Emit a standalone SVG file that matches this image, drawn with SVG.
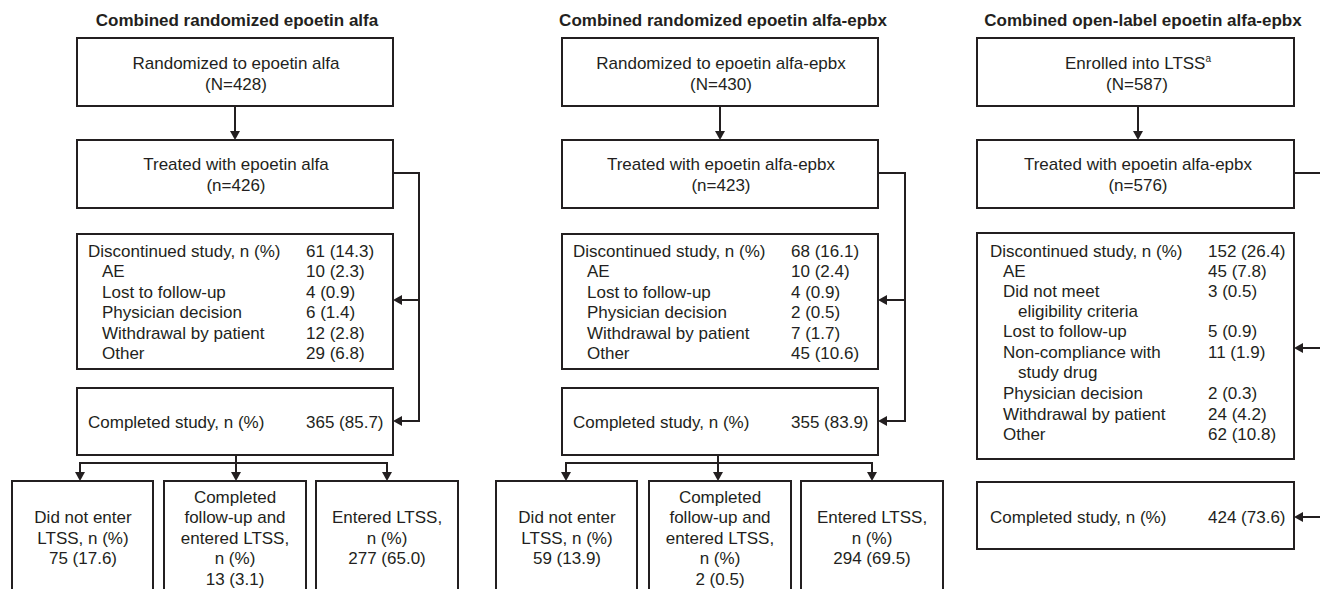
<svg xmlns="http://www.w3.org/2000/svg" width="1320" height="589" viewBox="0 0 1320 589">
<style>
text{font-family:"Liberation Sans",Arial,sans-serif;font-size:17px;fill:#231f20}
.t{font-weight:bold}
.c{text-anchor:middle}
.b{fill:#fff;stroke:#231f20;stroke-width:2}
.k{fill:none;stroke:#231f20;stroke-width:2}
</style>
<defs>
<marker id="ah" markerUnits="userSpaceOnUse" markerWidth="10" markerHeight="10" viewBox="0 0 9 10" refX="7" refY="5" orient="auto">
<path d="M0,0 L9,5 L0,10 z" fill="#231f20"/>
</marker>
</defs>
<rect width="1320" height="589" fill="#fff"/>

<g id="titles">
<text class="t c" x="237" y="26">Combined randomized epoetin alfa</text>
<text class="t c" x="723" y="26">Combined randomized epoetin alfa-epbx</text>
<text class="t c" x="1143" y="26">Combined open-label epoetin alfa-epbx</text>
</g>

<g id="connectors">
<!-- left -->
<line class="k" x1="235" y1="106" x2="235" y2="138" marker-end="url(#ah)"/>
<path class="k" d="M393,173 H419 V421 H395" marker-end="url(#ah)"/>
<line class="k" x1="419" y1="300" x2="395" y2="300" marker-end="url(#ah)"/>
<path class="k" d="M236,455 V463 M80,463 H387"/>
<line class="k" x1="80" y1="462" x2="80" y2="479" marker-end="url(#ah)"/>
<line class="k" x1="236" y1="462" x2="236" y2="479" marker-end="url(#ah)"/>
<line class="k" x1="387" y1="462" x2="387" y2="479" marker-end="url(#ah)"/>
<!-- middle -->
<line class="k" x1="720" y1="106" x2="720" y2="138" marker-end="url(#ah)"/>
<path class="k" d="M878,173 H905 V421 H880" marker-end="url(#ah)"/>
<line class="k" x1="905" y1="300" x2="880" y2="300" marker-end="url(#ah)"/>
<path class="k" d="M718,455 V463 M566,463 H872"/>
<line class="k" x1="566" y1="462" x2="566" y2="479" marker-end="url(#ah)"/>
<line class="k" x1="718" y1="462" x2="718" y2="479" marker-end="url(#ah)"/>
<line class="k" x1="872" y1="462" x2="872" y2="479" marker-end="url(#ah)"/>
<!-- right -->
<line class="k" x1="1138" y1="106" x2="1138" y2="138" marker-end="url(#ah)"/>
<path class="k" d="M1294,173 H1322"/>
<line class="k" x1="1322" y1="348" x2="1296" y2="348" marker-end="url(#ah)"/>
<line class="k" x1="1322" y1="517" x2="1296" y2="517" marker-end="url(#ah)"/>
</g>

<!-- LEFT COLUMN -->
<g id="L-randomized">
<rect class="b" x="77" y="38" width="316" height="68"/>
<text class="c" x="236" y="69">Randomized to epoetin alfa</text>
<text class="c" x="236" y="90">(N=428)</text>
</g>
<g id="L-treated">
<rect class="b" x="77" y="140" width="316" height="68"/>
<text class="c" x="236" y="170">Treated with epoetin alfa</text>
<text class="c" x="236" y="191">(n=426)</text>
</g>
<g id="L-discontinued">
<rect class="b" x="77" y="234" width="316" height="135"/>
<text x="88" y="256.5">Discontinued study, n (%)</text><text x="306" y="256.5">61 (14.3)</text>
<text x="102" y="277">AE</text><text x="306" y="277">10 (2.3)</text>
<text x="102" y="297.5">Lost to follow-up</text><text x="306" y="297.5">4 (0.9)</text>
<text x="102" y="318">Physician decision</text><text x="306" y="318">6 (1.4)</text>
<text x="102" y="338.5">Withdrawal by patient</text><text x="306" y="338.5">12 (2.8)</text>
<text x="102" y="359">Other</text><text x="306" y="359">29 (6.8)</text>
</g>
<g id="L-completed">
<rect class="b" x="77" y="388" width="316" height="67"/>
<text x="88" y="428">Completed study, n (%)</text><text x="306" y="428">365 (85.7)</text>
</g>
<g id="L-notenter">
<rect class="b" x="12" y="481" width="141" height="120"/>
<text class="c" x="83" y="523">Did not enter</text>
<text class="c" x="83" y="544">LTSS, n (%)</text>
<text class="c" x="83" y="564">75 (17.6)</text>
</g>
<g id="L-followup">
<rect class="b" x="164" y="481" width="142" height="120"/>
<text class="c" x="235" y="503">Completed</text>
<text class="c" x="235" y="523">follow-up and</text>
<text class="c" x="235" y="544">entered LTSS,</text>
<text class="c" x="235" y="564">n (%)</text>
<text class="c" x="235" y="585">13 (3.1)</text>
</g>
<g id="L-entered">
<rect class="b" x="316" y="481" width="142" height="120"/>
<text class="c" x="387" y="523">Entered LTSS,</text>
<text class="c" x="387" y="544">n (%)</text>
<text class="c" x="387" y="564">277 (65.0)</text>
</g>

<!-- MIDDLE COLUMN -->
<g id="M-randomized">
<rect class="b" x="562" y="38" width="316" height="68"/>
<text class="c" x="721" y="69">Randomized to epoetin alfa-epbx</text>
<text class="c" x="721" y="90">(N=430)</text>
</g>
<g id="M-treated">
<rect class="b" x="562" y="140" width="316" height="68"/>
<text class="c" x="721" y="170">Treated with epoetin alfa-epbx</text>
<text class="c" x="721" y="191">(n=423)</text>
</g>
<g id="M-discontinued">
<rect class="b" x="562" y="234" width="316" height="135"/>
<text x="573" y="256.5">Discontinued study, n (%)</text><text x="791" y="256.5">68 (16.1)</text>
<text x="587" y="277">AE</text><text x="791" y="277">10 (2.4)</text>
<text x="587" y="297.5">Lost to follow-up</text><text x="791" y="297.5">4 (0.9)</text>
<text x="587" y="318">Physician decision</text><text x="791" y="318">2 (0.5)</text>
<text x="587" y="338.5">Withdrawal by patient</text><text x="791" y="338.5">7 (1.7)</text>
<text x="587" y="359">Other</text><text x="791" y="359">45 (10.6)</text>
</g>
<g id="M-completed">
<rect class="b" x="562" y="388" width="316" height="67"/>
<text x="573" y="428">Completed study, n (%)</text><text x="791" y="428">355 (83.9)</text>
</g>
<g id="M-notenter">
<rect class="b" x="496" y="481" width="141" height="120"/>
<text class="c" x="567" y="523">Did not enter</text>
<text class="c" x="567" y="544">LTSS, n (%)</text>
<text class="c" x="567" y="564">59 (13.9)</text>
</g>
<g id="M-followup">
<rect class="b" x="649" y="481" width="142" height="120"/>
<text class="c" x="720" y="503">Completed</text>
<text class="c" x="720" y="523">follow-up and</text>
<text class="c" x="720" y="544">entered LTSS,</text>
<text class="c" x="720" y="564">n (%)</text>
<text class="c" x="720" y="585">2 (0.5)</text>
</g>
<g id="M-entered">
<rect class="b" x="801" y="481" width="142" height="120"/>
<text class="c" x="872" y="523">Entered LTSS,</text>
<text class="c" x="872" y="544">n (%)</text>
<text class="c" x="872" y="564">294 (69.5)</text>
</g>

<!-- RIGHT COLUMN -->
<g id="R-enrolled">
<rect class="b" x="977" y="38" width="317" height="68"/>
<text class="c" x="1138" y="69">Enrolled into LTSS<tspan font-size="10" dy="-7">a</tspan></text>
<text class="c" x="1137" y="90">(N=587)</text>
</g>
<g id="R-treated">
<rect class="b" x="977" y="140" width="317" height="68"/>
<text class="c" x="1138" y="170">Treated with epoetin alfa-epbx</text>
<text class="c" x="1138" y="191">(n=576)</text>
</g>
<g id="R-discontinued">
<rect class="b" x="977" y="233" width="317" height="226"/>
<text x="990" y="256.5">Discontinued study, n (%)</text><text x="1208" y="256.5">152 (26.4)</text>
<text x="1003" y="277">AE</text><text x="1208" y="277">45 (7.8)</text>
<text x="1003" y="297">Did not meet</text><text x="1208" y="297">3 (0.5)</text>
<text x="1018" y="317">eligibility criteria</text>
<text x="1003" y="337">Lost to follow-up</text><text x="1208" y="337">5 (0.9)</text>
<text x="1003" y="358">Non-compliance with</text><text x="1208" y="358">11 (1.9)</text>
<text x="1018" y="378">study drug</text>
<text x="1003" y="399">Physician decision</text><text x="1208" y="399">2 (0.3)</text>
<text x="1003" y="419.5">Withdrawal by patient</text><text x="1208" y="419.5">24 (4.2)</text>
<text x="1003" y="440">Other</text><text x="1208" y="440">62 (10.8)</text>
</g>
<g id="R-completed">
<rect class="b" x="977" y="482" width="317" height="67"/>
<text x="990" y="523">Completed study, n (%)</text><text x="1208" y="523">424 (73.6)</text>
</g>
</svg>
